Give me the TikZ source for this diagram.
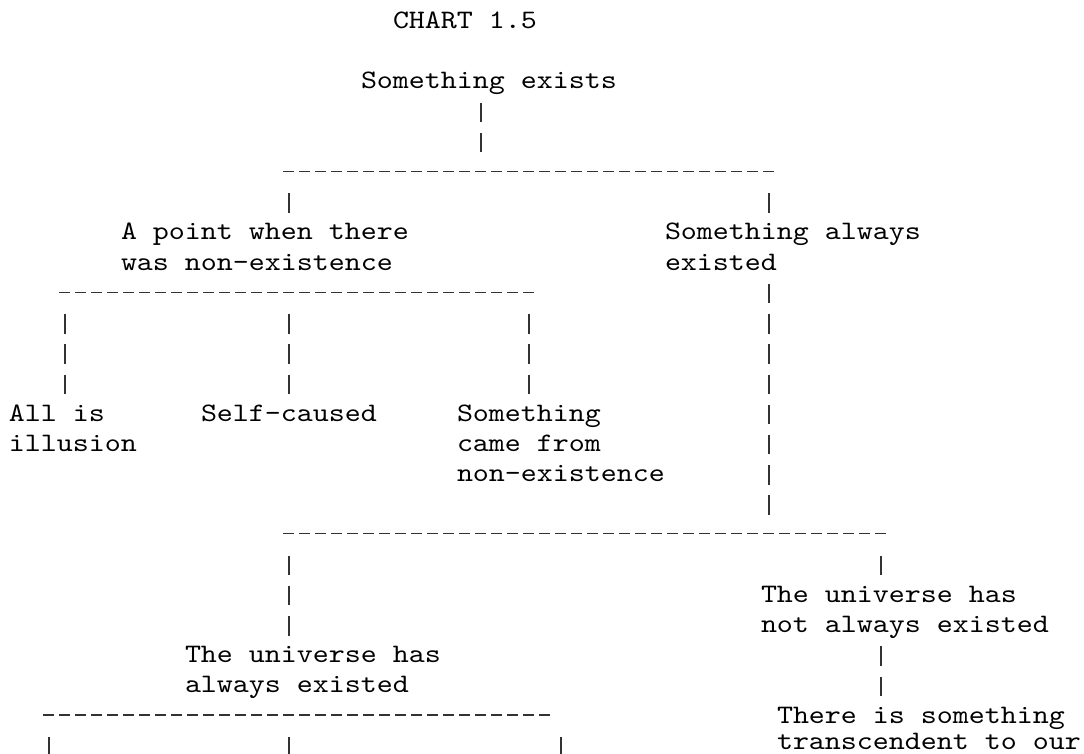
\documentclass[tikz,border=0pt]{standalone}
\usepackage{fontspec}
\usepackage{tikz}
\usetikzlibrary{positioning}
\newfontfamily\chartfont{lmmono10-regular.otf}[FakeStretch=1.1429]
\tikzset{
  chartlabel/.style = {font={\chartfont\fontsize{13.33pt}{15.1pt}\selectfont},
    inner sep=0pt, outer sep=0pt, anchor=north west,
    text height=10.875pt, text depth=4.225pt},% one printed line
  nextline/.style = {chartlabel, below=0pt of #1.south west,
    anchor=north west},% line under line
  pipecol/.style = {draw=black!80, line width=0.65pt,
    dash pattern=on 9.75pt off 5.35pt, dash phase=12.425pt},% column of |
  dashrow/.style = {draw=black!80, line width=0.65pt,
    dash pattern=on 5.65pt off 2.35pt}% row of -
}

\begin{document}
\begin{tikzpicture}[x=0.5pt,y=-0.5pt]
\path[use as bounding box, fill=white] (0,0) rectangle (1084,754);
\node[chartlabel] (title) at (393,6.85) {CHART 1.5};
\node[chartlabel] (exists) at (361,67.25) {Something exists};
\node[chartlabel] (point) at (121,218.25) {A point when there};
\node[nextline=point] (point2) {was non-existence};
\node[chartlabel] (always) at (665,218.25) {Something always};
\node[nextline=always] (always2) {existed};
\node[chartlabel] (illusion) at (9,399.45) {All is};
\node[nextline=illusion] (illusion2) {illusion};
\node[chartlabel] (selfcaused) at (201,399.45) {Self-caused};
\node[chartlabel] (fromnon) at (457,399.45) {Something};
\node[nextline=fromnon] (fromnon2) {came from};
\node[nextline=fromnon2] (fromnon3) {non-existence};
\node[chartlabel] (univnot) at (761,580.65) {The universe has};
\node[nextline=univnot] (univnot2) {not always existed};
\node[chartlabel] (univalways) at (185,641.05) {The universe has};
\node[nextline=univalways] (univalways2) {always existed};
\node[chartlabel] (transc) at (777,701.45) {There is something};
\node[nextline=transc, text depth=0pt, yshift=2pt] (transc2) {transcendent to our};% last line, kept off the page edge

% bars and the points where the | columns meet them
\coordinate (bar1w) at (283,171.4);
\coordinate (bar1e) at (774.3,171.4);
\coordinate (bar1in) at (481,157.85);
\coordinate (bar1l) at (289,188.05);
\coordinate (bar1r) at (769,188.05);
\coordinate (bar2w) at (59,292.2);
\coordinate (bar2e) at (534.3,292.2);
\coordinate (bar2a) at (65,308.85);
\coordinate (bar2b) at (289,308.85);
\coordinate (bar2c) at (529,308.85);
\coordinate (bar3w) at (283,533.8);
\coordinate (bar3e) at (886.3,533.8);
\coordinate (bar3in) at (769,520.25);
\coordinate (bar3l) at (289,550.45);
\coordinate (bar3r) at (881,550.45);
\coordinate (bar4w) at (43,715);
\coordinate (bar4e) at (550.3,715);
\coordinate (bar4a) at (49,731.65);
\coordinate (bar4b) at (289,731.65);
\coordinate (bar4c) at (561,731.65);
\coordinate (bottom) at (0,754);

\draw[dashrow] (bar1w) -- (bar1e);
\draw[dashrow] (bar2w) -- (bar2e);
\draw[dashrow] (bar3w) -- (bar3e);
\draw[dashrow] (bar4w) -- (bar4e);

\draw[pipecol] (exists.south -| bar1in) -- (bar1in);
\draw[pipecol] (bar1l) -- (bar1l |- point.north);
\draw[pipecol] (bar1r) -- (bar1r |- always.north);
\draw[pipecol] (bar2a) -- (bar2a |- illusion.north);
\draw[pipecol] (bar2b) -- (bar2b |- selfcaused.north);
\draw[pipecol] (bar2c) -- (bar2c |- fromnon.north);
\draw[pipecol] (always2.south -| bar3in) -- (bar3in);
\draw[pipecol] (bar3l) -- (bar3l |- univalways.north);
\draw[pipecol] (bar3r) -- (bar3r |- univnot.north);
\draw[pipecol] (univnot2.south -| bar3r) -- (bar3r |- transc.north);
\draw[pipecol] (bar4a) -- (bar4a |- bottom);
\draw[pipecol] (bar4b) -- (bar4b |- bottom);
\draw[pipecol] (bar4c) -- (bar4c |- bottom);
\end{tikzpicture}
\end{document}
